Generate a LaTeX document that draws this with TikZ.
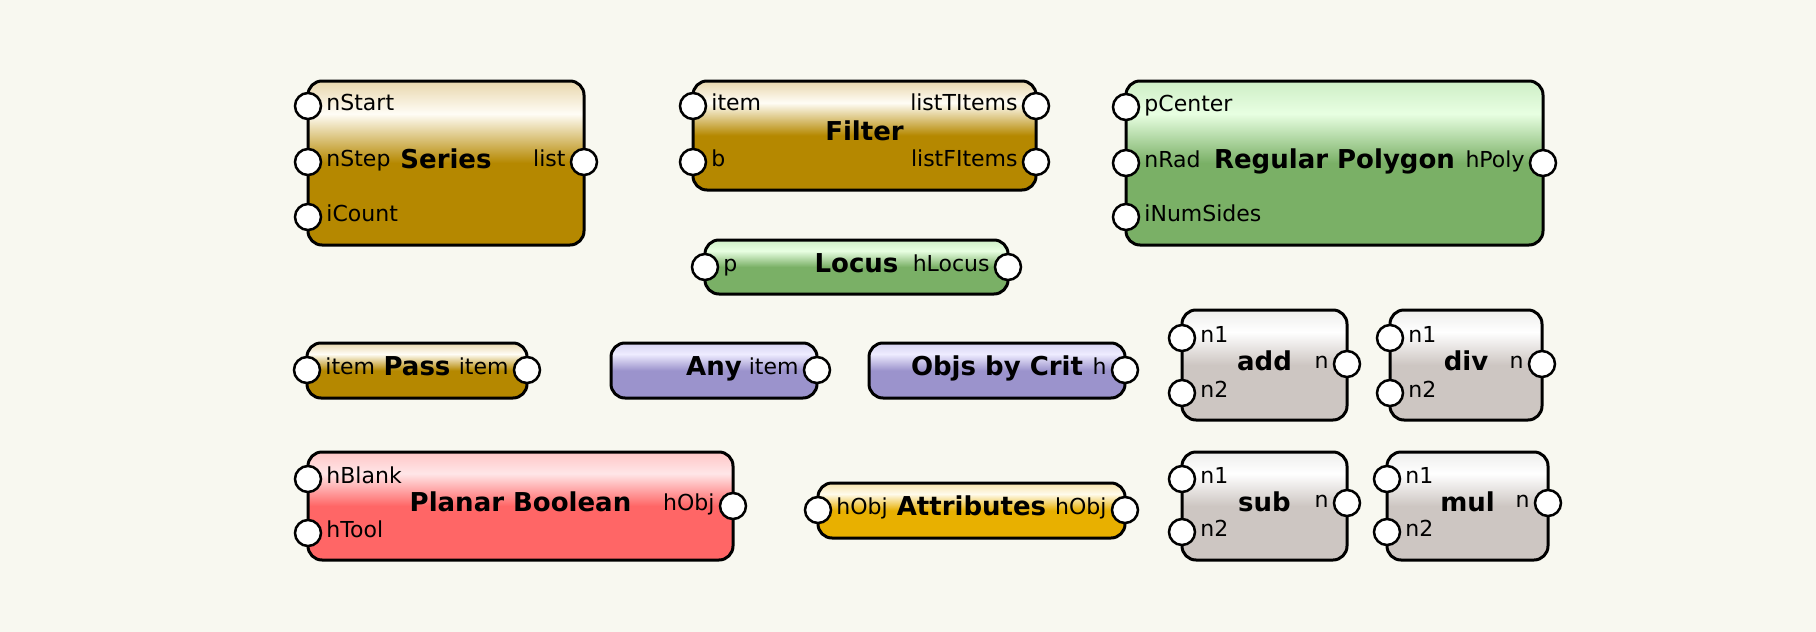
\documentclass[tikz,border=0pt]{standalone}
\usepackage{fontspec}
\setmainfont{DejaVu Sans}
\usetikzlibrary{positioning}

\definecolor{bgcol}{RGB}{248,248,240}
\definecolor{goldbase}{RGB}{181,136,0}
\definecolor{goldpeak}{RGB}{255,253,246}
\definecolor{goldtop}{RGB}{232,214,172}
\definecolor{greenbase}{RGB}{122,176,102}
\definecolor{greenpeak}{RGB}{232,255,226}
\definecolor{greentop}{RGB}{206,238,198}
\definecolor{violetbase}{RGB}{155,147,204}
\definecolor{violetpeak}{RGB}{238,236,255}
\definecolor{violettop}{RGB}{214,210,240}
\definecolor{redbase}{RGB}{255,102,102}
\definecolor{redpeak}{RGB}{255,230,232}
\definecolor{redtop}{RGB}{255,198,198}
\definecolor{amberbase}{RGB}{232,176,0}
\definecolor{amberpeak}{RGB}{255,251,236}
\definecolor{ambertop}{RGB}{246,226,170}
\definecolor{greybase}{RGB}{205,198,194}
\definecolor{greypeak}{RGB}{255,255,255}
\definecolor{greytop}{RGB}{238,238,236}

\pgfdeclareverticalshading{goldshade}{100bp}{color(0bp)=(goldbase); color(50bp)=(goldbase); color(65bp)=(goldpeak); color(75bp)=(goldtop); color(100bp)=(goldtop)}
\pgfdeclareverticalshading{greenshade}{100bp}{color(0bp)=(greenbase); color(50bp)=(greenbase); color(65bp)=(greenpeak); color(75bp)=(greentop); color(100bp)=(greentop)}
\pgfdeclareverticalshading{violetshade}{100bp}{color(0bp)=(violetbase); color(50bp)=(violetbase); color(65bp)=(violetpeak); color(75bp)=(violettop); color(100bp)=(violettop)}
\pgfdeclareverticalshading{redshade}{100bp}{color(0bp)=(redbase); color(50bp)=(redbase); color(65bp)=(redpeak); color(75bp)=(redtop); color(100bp)=(redtop)}
\pgfdeclareverticalshading{ambershade}{100bp}{color(0bp)=(amberbase); color(50bp)=(amberbase); color(65bp)=(amberpeak); color(75bp)=(ambertop); color(100bp)=(ambertop)}
\pgfdeclareverticalshading{greyshade}{100bp}{color(0bp)=(greybase); color(50bp)=(greybase); color(65bp)=(greypeak); color(75bp)=(greytop); color(100bp)=(greytop)}

\tikzset{
  blk/.style={draw, line width=3pt, rounded corners=14pt, anchor=north west, inner sep=0pt, outer sep=0pt},
  goldblk/.style={blk, shade, shading=goldshade},
  greenblk/.style={blk, shade, shading=greenshade},
  violetblk/.style={blk, shade, shading=violetshade},
  redblk/.style={blk, shade, shading=redshade},
  amberblk/.style={blk, shade, shading=ambershade},
  greyblk/.style={blk, shade, shading=greyshade},
  port/.style={circle, draw, fill=white, line width=2.5pt, minimum size=26pt, inner sep=0pt},
  lbl/.style={font=\fontsize{22}{26}\selectfont, inner sep=0pt, yshift=-2pt},
  lblin/.style={lbl, anchor=mid west, xshift=4pt},
  lblout/.style={lbl, anchor=mid east, xshift=-4pt},
  ttl/.style={font=\bfseries\fontsize{26}{30}\selectfont, inner sep=0pt, anchor=base, yshift=-5pt}
}

\begin{document}
\begin{tikzpicture}[x=1pt, y=-1pt]

\useasboundingbox (0,0) rectangle (1816,632);
\fill[bgcol] (0,0) rectangle (1816,632);

\node[goldblk, minimum width=276pt, minimum height=164pt] (series) at (308,81) {};
\node[ttl] (series-t) at (series.center) {Series};
\node[port] (series-i1) at (308,106) {};
\node[port] (series-i2) at (308,162) {};
\node[port] (series-i3) at (308,217) {};
\node[port] (series-o1) at (584,162) {};
\node[lblin] (series-li1) at (series-i1.east) {nStart};
\node[lblin] (series-li2) at (series-i2.east) {nStep};
\node[lblin] (series-li3) at (series-i3.east) {iCount};
\node[lblout] (series-lo1) at (series-o1.west) {list};

\node[goldblk, minimum width=343pt, minimum height=109pt] (filter) at (693,81) {};
\node[ttl] (filter-t) at (filter.center) {Filter};
\node[port] (filter-i1) at (693,106) {};
\node[port] (filter-i2) at (693,162) {};
\node[port] (filter-o1) at (1036,106) {};
\node[port] (filter-o2) at (1036,162) {};
\node[lblin] (filter-li1) at (filter-i1.east) {item};
\node[lblin] (filter-li2) at (filter-i2.east) {b};
\node[lblout] (filter-lo1) at (filter-o1.west) {listTItems};
\node[lblout] (filter-lo2) at (filter-o2.west) {listFItems};

\node[greenblk, minimum width=417pt, minimum height=164pt] (regpoly) at (1126,81) {};
\node[ttl] (regpoly-t) at (regpoly.center) {Regular Polygon};
\node[port] (regpoly-i1) at (1126,107) {};
\node[port] (regpoly-i2) at (1126,163) {};
\node[port] (regpoly-i3) at (1126,217) {};
\node[port] (regpoly-o1) at (1543,163) {};
\node[lblin] (regpoly-li1) at (regpoly-i1.east) {pCenter};
\node[lblin] (regpoly-li2) at (regpoly-i2.east) {nRad};
\node[lblin] (regpoly-li3) at (regpoly-i3.east) {iNumSides};
\node[lblout] (regpoly-lo1) at (regpoly-o1.west) {hPoly};

\node[greenblk, minimum width=303pt, minimum height=54pt] (locus) at (705,240) {};
\node[ttl] (locus-t) at (locus.center) {Locus};
\node[port] (locus-i1) at (705,267) {};
\node[port] (locus-o1) at (1008,267) {};
\node[lblin] (locus-li1) at (locus-i1.east) {p};
\node[lblout] (locus-lo1) at (locus-o1.west) {hLocus};

\node[goldblk, minimum width=220pt, minimum height=55pt] (pass) at (307,343) {};
\node[ttl] (pass-t) at (pass.center) {Pass};
\node[port] (pass-i1) at (307,370) {};
\node[port] (pass-o1) at (527,370) {};
\node[lblin] (pass-li1) at (pass-i1.east) {item};
\node[lblout] (pass-lo1) at (pass-o1.west) {item};

\node[violetblk, minimum width=206pt, minimum height=55pt] (any) at (611,343) {};
\node[ttl] (any-t) at (any.center) {Any};
\node[port] (any-o1) at (817,370) {};
\node[lblout] (any-lo1) at (any-o1.west) {item};

\node[violetblk, minimum width=256pt, minimum height=55pt] (objs) at (869,343) {};
\node[ttl] (objs-t) at (objs.center) {Objs by Crit};
\node[port] (objs-o1) at (1125,370) {};
\node[lblout] (objs-lo1) at (objs-o1.west) {h};

\node[greyblk, minimum width=165pt, minimum height=110pt] (add) at (1182,310) {};
\node[ttl] (add-t) at (add.center) {add};
\node[port] (add-i1) at (1182,338) {};
\node[port] (add-i2) at (1182,393) {};
\node[port] (add-o1) at (1347,364) {};
\node[lblin] (add-li1) at (add-i1.east) {n1};
\node[lblin] (add-li2) at (add-i2.east) {n2};
\node[lblout] (add-lo1) at (add-o1.west) {n};

\node[greyblk, minimum width=152pt, minimum height=110pt] (div) at (1390,310) {};
\node[ttl] (div-t) at (div.center) {div};
\node[port] (div-i1) at (1390,338) {};
\node[port] (div-i2) at (1390,393) {};
\node[port] (div-o1) at (1542,364) {};
\node[lblin] (div-li1) at (div-i1.east) {n1};
\node[lblin] (div-li2) at (div-i2.east) {n2};
\node[lblout] (div-lo1) at (div-o1.west) {n};

\node[redblk, minimum width=425pt, minimum height=108pt] (planar) at (308,452) {};
\node[ttl] (planar-t) at (planar.center) {Planar Boolean};
\node[port] (planar-i1) at (308,479) {};
\node[port] (planar-i2) at (308,533) {};
\node[port] (planar-o1) at (733,506) {};
\node[lblin] (planar-li1) at (planar-i1.east) {hBlank};
\node[lblin] (planar-li2) at (planar-i2.east) {hTool};
\node[lblout] (planar-lo1) at (planar-o1.west) {hObj};

\node[amberblk, minimum width=307pt, minimum height=55pt] (attrib) at (818,483) {};
\node[ttl] (attrib-t) at (attrib.center) {Attributes};
\node[port] (attrib-i1) at (818,510) {};
\node[port] (attrib-o1) at (1125,510) {};
\node[lblin] (attrib-li1) at (attrib-i1.east) {hObj};
\node[lblout] (attrib-lo1) at (attrib-o1.west) {hObj};

\node[greyblk, minimum width=165pt, minimum height=108pt] (sub) at (1182,452) {};
\node[ttl] (sub-t) at (sub.center) {sub};
\node[port] (sub-i1) at (1182,479) {};
\node[port] (sub-i2) at (1182,532) {};
\node[port] (sub-o1) at (1347,503) {};
\node[lblin] (sub-li1) at (sub-i1.east) {n1};
\node[lblin] (sub-li2) at (sub-i2.east) {n2};
\node[lblout] (sub-lo1) at (sub-o1.west) {n};

\node[greyblk, minimum width=161pt, minimum height=108pt] (mul) at (1387,452) {};
\node[ttl] (mul-t) at (mul.center) {mul};
\node[port] (mul-i1) at (1387,479) {};
\node[port] (mul-i2) at (1387,532) {};
\node[port] (mul-o1) at (1548,503) {};
\node[lblin] (mul-li1) at (mul-i1.east) {n1};
\node[lblin] (mul-li2) at (mul-i2.east) {n2};
\node[lblout] (mul-lo1) at (mul-o1.west) {n};

\end{tikzpicture}
\end{document}
